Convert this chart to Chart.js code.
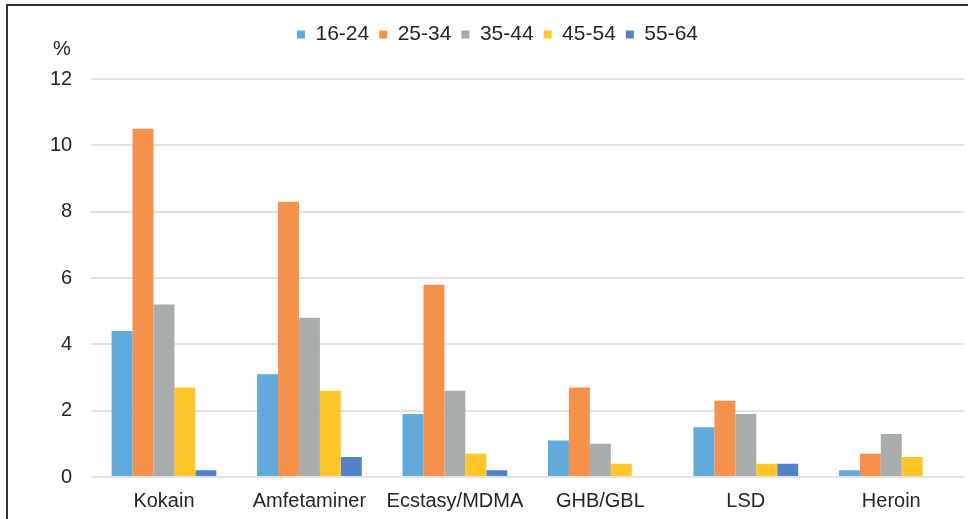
<!DOCTYPE html>
<html>
<head>
<meta charset="utf-8">
<script src="https://cdn.jsdelivr.net/npm/chart.js@4.4.1/dist/chart.umd.min.js"></script>
<style>
  html, body { margin: 0; padding: 0; background: #fff; }
  #wrap { position: relative; width: 968px; height: 519px; overflow: hidden; }
  #frame { position: absolute; left: 6px; top: 4px; width: 980px; height: 540px;
           border-top: 2px solid #333; border-left: 2px solid #333; }
  #chart { position: absolute; left: 0; top: 0; }
</style>
</head>
<body>
<div id="wrap">
  <div id="frame"></div>
  <canvas id="chart" width="968" height="527"></canvas>
</div>
<script>
// Share (%) by drug and age group
const categories = ['Kokain', 'Amfetaminer', 'Ecstasy/MDMA', 'GHB/GBL', 'LSD', 'Heroin'];
const ageGroups = ['16-24', '25-34', '35-44', '45-54', '55-64'];
const age16_24 = [4.4, 3.1, 1.9, 1.1, 1.5, 0.2];
const age25_34 = [10.5, 8.3, 5.8, 2.7, 2.3, 0.7];
const age35_44 = [5.2, 4.8, 2.6, 1.0, 1.9, 1.3];
const age45_54 = [2.7, 2.6, 0.7, 0.4, 0.4, 0.6];
const age55_64 = [0.2, 0.6, 0.2, 0, 0.4, 0];
const yTicks = [0, 2, 4, 6, 8, 10, 12];

const COLORS = ['#61aadc', '#f5914a', '#a9acac', '#ffc629', '#5183c6'];
const FONT = '"Liberation Sans", Arial, sans-serif';
const TEXT = '#262626';

const seriesValues = [age16_24, age25_34, age35_44, age45_54, age55_64];

// extra space between legend and plot area
const legendGap = {
  id: 'legendGap',
  beforeInit(chart) {
    const fit = chart.legend.fit;
    chart.legend.fit = function () {
      fit.call(this);
      this.height += 24;
    };
  }
};

// "%" unit label above the y tick labels
const unitLabel = {
  id: 'unitLabel',
  afterDraw(chart) {
    const ctx = chart.ctx;
    const y = chart.scales.y;
    ctx.save();
    ctx.font = '20px ' + FONT;
    ctx.fillStyle = TEXT;
    ctx.textAlign = 'center';
    ctx.textBaseline = 'middle';
    ctx.fillText('%', 62, y.top - 30);
    ctx.restore();
  }
};

new Chart(document.getElementById('chart').getContext('2d'), {
  type: 'bar',
  data: {
    labels: categories,
    datasets: ageGroups.map((g, i) => ({
      label: g,
      data: seriesValues[i],
      backgroundColor: COLORS[i],
      borderWidth: 0,
      barPercentage: 1,
      categoryPercentage: 0.72
    }))
  },
  options: {
    responsive: false,
    animation: false,
    layout: { padding: { left: 31, right: 4, top: 14, bottom: 2 } },
    plugins: {
      legend: {
        position: 'top',
        labels: {
          color: TEXT,
          boxWidth: 8,
          boxHeight: 8,
          padding: 10,
          font: { family: FONT, size: 21 }
        }
      },
      tooltip: { enabled: false }
    },
    scales: {
      x: {
        grid: { display: false, drawTicks: false },
        border: { display: false },
        ticks: { color: TEXT, padding: 12, font: { family: FONT, size: 20 } }
      },
      y: {
        min: 0,
        max: 12,
        afterBuildTicks: (s) => { s.ticks = yTicks.map(v => ({ value: v })); },
        grid: { color: '#e2e2e2', lineWidth: 2, drawTicks: false },
        border: { display: false },
        ticks: { color: TEXT, padding: 19, font: { family: FONT, size: 20 } }
      }
    }
  },
  plugins: [legendGap, unitLabel]
});
</script>
</body>
</html>
